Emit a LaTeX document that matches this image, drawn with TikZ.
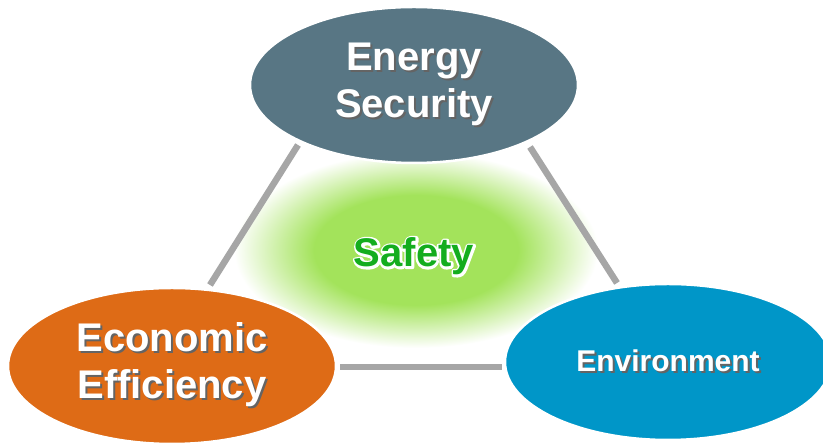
\documentclass[tikz,border=0pt]{standalone}
\usepackage{fontspec}
\setmainfont{Liberation Sans}
\usetikzlibrary{shapes.geometric}
\definecolor{secblue}{HTML}{587684}
\definecolor{econorange}{HTML}{DE6B16}
\definecolor{envblue}{HTML}{0096C8}
\definecolor{glowgreen}{HTML}{A3E35B}
\definecolor{safegreen}{HTML}{14AD1E}
\definecolor{linegray}{HTML}{A6A6A6}
\definecolor{shadowgray}{HTML}{303030}
\pgfdeclareradialshading{glowshade}{\pgfpoint{0bp}{0bp}}{color(0bp)=(glowgreen); color(14bp)=(glowgreen); color(25bp)=(white); color(50bp)=(white)}
\newcommand\shadowed[1]{\makebox[0pt][l]{\hspace{2pt}\raisebox{-2pt}{\textcolor{shadowgray!75}{#1}}}#1}
\newcommand\glowtext[1]{%
\makebox[0pt][l]{\special{pdf:literal direct q 1 1 1 RG 1 1 1 rg 4.5 w 1 j 1 J 2 Tr}\textcolor{white}{#1}\special{pdf:literal direct 0 Tr Q}}%
#1}
\tikzset{
  bubble/.style={ellipse, draw=white, line width=2.5pt, minimum width=328pt, minimum height=156pt,
    inner sep=0pt, text=white, align=center, font=\bfseries\fontsize{40}{47}\selectfont},
  conn/.style={draw=linegray, line width=6.5pt}
}
\begin{document}
\begin{tikzpicture}[x=1pt,y=1pt]
\useasboundingbox (0,0) rectangle (823,443);
\fill[white] (0,0) rectangle (823,443);
% green glow
\shade[shading=glowshade] (416,193) ellipse [x radius=182, y radius=98];
% connector end points
\coordinate (l1) at (298,298);
\coordinate (l2) at (210,158);
\coordinate (r1) at (530,296);
\coordinate (r2) at (617,160);
\coordinate (b1) at (340,76);
\coordinate (b2) at (502,76);
\draw[conn] (l1) -- (l2);
\draw[conn] (r1) -- (r2);
\draw[conn] (b1) -- (b2);
% ellipses
\node[bubble, fill=secblue] (sec) at (414,358) {\shadowed{Energy}\\\shadowed{Security}};
\node[bubble, fill=econorange] (econ) at (172,77) {\shadowed{Economic}\\\shadowed{Efficiency}};
\node[bubble, fill=envblue, minimum width=326pt, font=\bfseries\fontsize{30}{36}\selectfont] (env) at (668,81) {\shadowed{Environment}};
% center label
\node[anchor=base, text=safegreen, inner sep=0pt, font=\bfseries\fontsize{40}{48}\selectfont] (safe) at (414,176) {\glowtext{Safety}};
\end{tikzpicture}
\end{document}
